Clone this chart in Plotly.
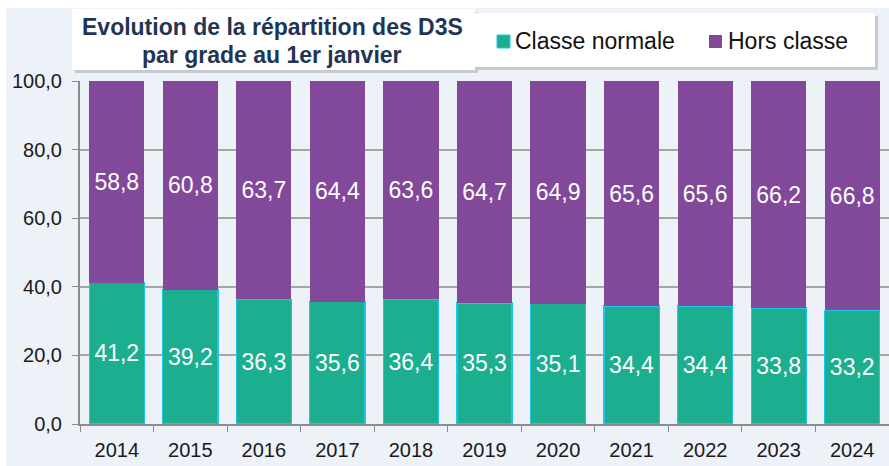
import plotly.graph_objects as go

years = ["2014", "2015", "2016", "2017", "2018", "2019", "2020", "2021", "2022", "2023", "2024"]
classe_normale = [41.2, 39.2, 36.3, 35.6, 36.4, 35.3, 35.1, 34.4, 34.4, 33.8, 33.2]
hors_classe = [58.8, 60.8, 63.7, 64.4, 63.6, 64.7, 64.9, 65.6, 65.6, 66.2, 66.8]
series_names = ["Classe normale", "Hors classe"]
series_colors = ["#1BAF8F", "#82489A"]

W, H = 889, 466
L, R, T, B = 80, 0, 81, 42
pw, ph = W - L - R, H - T - B

def px(x):
    return (x - L) / pw

def py(y):
    return (H - B - y) / ph

fmt = lambda v: f"{v:.1f}".replace(".", ",")

fig = go.Figure()
fig.add_bar(x=years, y=classe_normale, name=series_names[0],
            marker=dict(color=series_colors[0], line=dict(color="#22C4EE", width=1.2)),
            text=[fmt(v) for v in classe_normale], textposition="inside",
            insidetextanchor="middle", textangle=0, constraintext="none",
            textfont=dict(color="white", size=23, family="Liberation Sans"))
fig.add_bar(x=years, y=hors_classe, name=series_names[1],
            marker=dict(color=series_colors[1], line=dict(color=series_colors[1], width=0)),
            text=[fmt(v) for v in hors_classe], textposition="inside",
            insidetextanchor="middle", textangle=0, constraintext="none",
            textfont=dict(color="white", size=23, family="Liberation Sans"))

def rect(x0, x1, y0, y1, color, layer="above", line=None):
    return dict(type="rect", xref="paper", yref="paper", x0=px(x0), x1=px(x1),
                y0=py(y1), y1=py(y0), fillcolor=color,
                line=line or dict(width=0), layer=layer)

shapes = [
    rect(6, 889, 8, 466, "#EDF1F8", layer="below"),
    # title box
    rect(75, 478, 12, 73, "#C5C9D0"),
    rect(72, 475, 9, 70, "white"),
    # legend box
    rect(478, 878, 16, 70, "#C5C9D0"),
    rect(475, 875, 13, 67, "white"),
    # legend markers
    rect(497, 510, 35, 48, series_colors[0], line=dict(color="#22C4EE", width=1)),
    rect(709, 722, 35, 48, series_colors[1]),
]

annotations = [
    dict(text="<b>Evolution de la répartition des D3S</b>", xref="paper", yref="paper",
         x=px(272), y=py(27), xanchor="center", yanchor="middle", showarrow=False,
         font=dict(size=23, color="#1E3555", family="Liberation Sans")),
    dict(text="<b>par grade au 1er janvier</b>", xref="paper", yref="paper",
         x=px(272), y=py(55), xanchor="center", yanchor="middle", showarrow=False,
         font=dict(size=23, color="#1E3555", family="Liberation Sans")),
    dict(text=series_names[0], xref="paper", yref="paper", x=px(513), y=py(41),
         xanchor="left", yanchor="middle", showarrow=False,
         font=dict(size=23, color="#111111", family="Liberation Sans")),
    dict(text=series_names[1], xref="paper", yref="paper", x=px(726), y=py(41),
         xanchor="left", yanchor="middle", showarrow=False,
         font=dict(size=23, color="#111111", family="Liberation Sans")),
]

fig.update_layout(
    width=W, height=H,
    margin=dict(l=L, r=R, t=T, b=B),
    barmode="stack", bargap=0.25,
    paper_bgcolor="white", plot_bgcolor="#EDF1F8",
    font=dict(family="Liberation Sans", size=20, color="#1A1A1A"),
    separators=", ",
    showlegend=False,
    shapes=shapes, annotations=annotations,
    xaxis=dict(type="category", tickson="boundaries", ticks="outside", ticklen=6,
               tickcolor="#8C8C8C", showline=True, linecolor="#8C8C8C", linewidth=2,
               tickfont=dict(size=20), showgrid=False, ticklabelstandoff=7),
    yaxis=dict(range=[0, 100], dtick=20, tickformat=".1f", ticks="outside", ticklen=6,
               tickcolor="#8C8C8C", showline=True, linecolor="#8C8C8C", linewidth=2,
               gridcolor="#A6A6A6", gridwidth=1.5, tickfont=dict(size=20), zeroline=False,
               ticklabelstandoff=6),
)

fig.write_html("out.html", config={"displayModeBar": False},
               post_script="document.body.style.margin='0';")
